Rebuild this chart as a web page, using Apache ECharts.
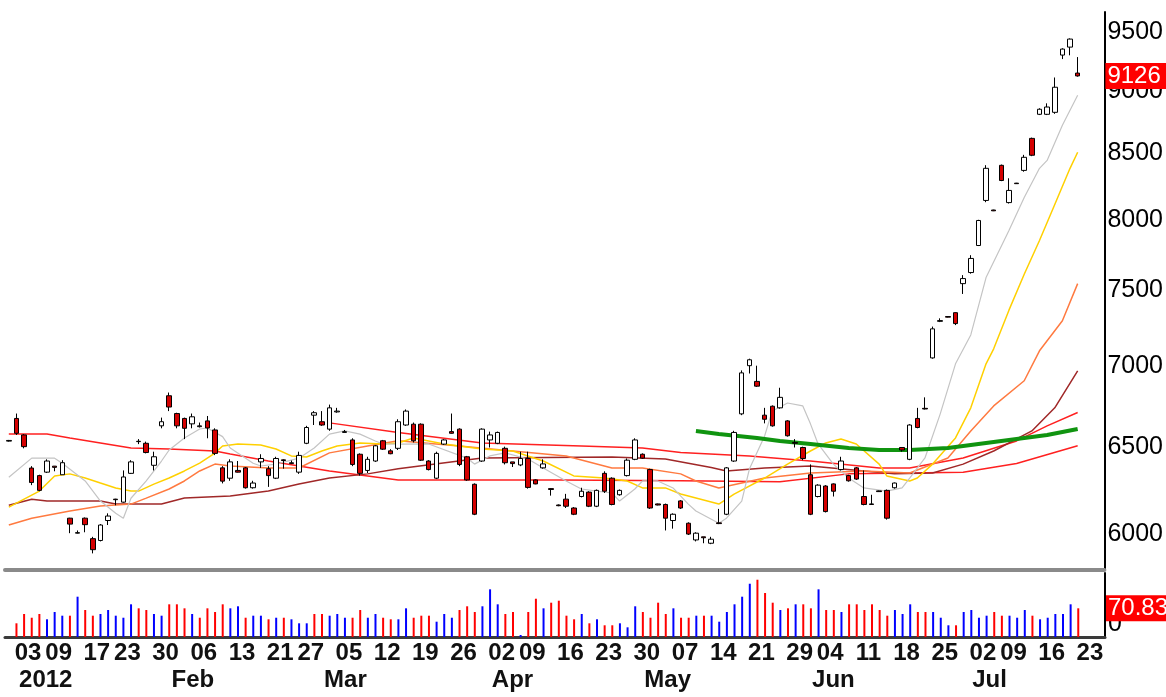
<!DOCTYPE html>
<html><head><meta charset="utf-8">
<script src="https://cdn.jsdelivr.net/npm/echarts@6/dist/echarts.min.js"></script>
<style>html,body{margin:0;padding:0;background:#fff}#c{width:1166px;height:697px}</style>
</head><body><div id="c"></div>
<script>
// ---- trading days (category axis) ----
const dec2011 = [29,30];
const jan = [3,4,5,6,9,10,11,12,13,17,18,19,20,23,24,25,26,27,30,31];
const feb = [1,2,3,6,7,8,9,10,13,14,15,16,17,21,22,23,24,27,28,29];
const mar = [1,2,5,6,7,8,9,12,13,14,15,16,19,20,21,22,23,26,27,28,29,30];
const apr = [2,3,4,5,9,10,11,12,13,16,17,18,19,20,23,24,25,26,27,30];
const may = [1,2,3,4,7,8,9,10,11,14,15,16,17,18,21,22,23,24,25,29,30,31];
const jun = [1,4,5,6,7,8,11,12,13,14,15,18,19,20,21,22,25,26,27,28,29];
const jul = [2,3,5,6,9,10,11,12,13,16,17,18,19,20];
const julFuture = [23,24,25];
const monthNames = ['Jan','Feb','Mar','Apr','May','Jun','Jul','Aug','Sep','Oct','Nov','Dec'];

// ---- OHLC, first entry = 2011-12-29 ----
const opens = [6533,6670,
 6570,6374,6330,6350,6385,6335,6088,6005,6088,5975,
 5965,6075,6195,6178,6343,6530,6520,6390,6625,6810,
 6700,6670,6637,6620,6655,6600,6375,6315,6360,6375,
 6260,6410,6370,6315,6422,6400,6350,6520,6690,6650,
 6605,6710,6585,6540,6455,6360,6415,6535,6475,6490,
 6630,6635,6635,6415,6315,6515,6590,6605,6440,6280,
 6415,6540,6520,6490,6410,6392,6430,6305,6375,6255,
 6162,6195,6145,6210,6235,6155,6343,6315,6220,6330,
 6425,6455,6365,6168,6165,6075,6185,6060,5968,5985,
 5950,6062,6110,6415,6698,7000,6900,6690,6745,6735,
 6655,6525,6495,6335,6210,6270,6282,6365,6330,6375,
 6210,6168,6242,6245,6260,6495,6425,6670,6732,7050,
 7290,7322,7348,7546,7623,7814,8143,8072,8409,8127,
 8273,8370,8619,8811,8811,8827,9302,9370,9150];
const closes = [6537,6580,
 6500,6290,6245,6415,6378,6405,6055,6008,6052,5915,
 6050,6100,6192,6322,6410,6532,6465,6440,6650,6740,
 6625,6610,6680,6625,6612,6460,6298,6410,6350,6260,
 6287,6430,6330,6430,6418,6405,6448,6615,6705,6630,
 6735,6715,6590,6395,6343,6425,6505,6485,6458,6650,
 6715,6535,6420,6365,6460,6540,6580,6395,6305,6110,
 6605,6570,6585,6405,6400,6430,6262,6282,6398,6250,
 6158,6155,6110,6240,6155,6245,6240,6165,6245,6420,
 6540,6432,6145,6162,6088,6110,6145,6000,6005,5980,
 5972,6058,6375,6585,6954,7038,6870,6665,6625,6800,
 6565,6520,6430,6110,6275,6125,6240,6415,6300,6310,
 6165,6165,6238,6088,6287,6480,6630,6615,6728,7240,
 7295,7318,7275,7581,7722,7995,8386,8066,8293,8218,
 8269,8471,8487,8852,8870,9032,9353,9439,9126];
const lows = [6530,6570,
 6490,6275,6240,6345,6355,6335,6005,6003,6010,5895,
 5960,6050,6160,6175,6340,6515,6460,6360,6610,6715,
 6610,6545,6610,6615,6550,6450,6285,6300,6348,6255,
 6255,6375,6265,6310,6370,6398,6340,6515,6630,6625,
 6595,6705,6585,6385,6330,6345,6410,6480,6455,6480,
 6625,6525,6415,6360,6310,6510,6578,6385,6300,6105,
 6410,6495,6515,6395,6380,6385,6255,6280,6370,6215,
 6155,6145,6105,6205,6150,6150,6230,6160,6215,6325,
 6420,6428,6140,6160,6020,6030,6140,5995,5960,5950,
 5945,6055,6105,6410,6690,6950,6865,6640,6620,6730,
 6560,6495,6420,6105,6205,6120,6210,6360,6295,6305,
 6160,6162,6236,6080,6255,6470,6420,6610,6725,7045,
 7285,7316,7265,7475,7615,7810,8130,8064,8288,8120,
 8267,8360,8480,8805,8805,8815,9268,9300,9120];
const highs = [6540,6700,
 6575,6385,6335,6425,6386,6420,6090,6020,6092,5985,
 6055,6115,6197,6360,6420,6545,6530,6470,6675,6830,
 6705,6675,6700,6645,6685,6610,6385,6425,6415,6380,
 6300,6455,6385,6440,6425,6418,6470,6625,6715,6715,
 6755,6735,6600,6550,6460,6440,6510,6540,6485,6665,
 6725,6645,6640,6420,6470,6545,6700,6610,6445,6285,
 6610,6590,6590,6500,6410,6470,6470,6308,6425,6258,
 6165,6225,6150,6260,6240,6250,6355,6320,6250,6430,
 6550,6460,6370,6170,6170,6115,6190,6065,6010,5985,
 5985,6140,6380,6595,6970,7045,7000,6735,6750,6860,
 6660,6545,6500,6395,6280,6275,6285,6440,6335,6380,
 6360,6220,6244,6250,6290,6495,6635,6735,6800,7255,
 7310,7324,7350,7605,7745,8000,8410,8074,8415,8310,
 8275,8490,8625,8860,8900,9113,9360,9445,9285];

// ---- volume (same days), and its colour flag: 1 = red, 0 = blue ----
const volumes = [null,33.8,
 56.8,47.6,56.8,43.7,61.7,52.6,52.6,99.5,66.6,52.6,
 56.8,66.6,52.6,47.6,80.7,70.8,66.6,56.8,52.6,80.7,
 80.7,70.8,56.8,47.6,70.8,61.7,80.7,70.8,75.8,47.6,
 52.6,52.6,43.7,47.6,47.6,43.7,33.8,33.8,56.8,56.8,
 52.6,56.8,47.6,47.6,66.6,47.6,56.8,47.6,43.7,43.7,
 70.8,47.6,52.6,52.6,37.8,56.8,47.6,66.6,75.8,61.7,
 75.8,117.7,80.7,56.8,61.7,4.9,61.7,94.5,70.8,84.7,
 89.6,52.6,43.7,56.8,33.8,43.7,28.9,28.9,33.8,23.9,
 75.8,61.7,47.6,84.7,56.8,70.8,47.6,47.6,52.6,52.6,
 52.6,37.8,61.7,80.7,99.5,131.5,141.4,108.6,84.7,66.6,
 70.8,80.7,80.7,70.8,117.7,66.6,66.6,61.7,80.7,80.7,
 66.6,80.7,66.6,52.6,66.6,56.8,80.7,61.7,61.7,61.7,
 47.6,28.9,28.9,61.7,66.6,47.6,52.6,61.7,52.6,52.6,
 47.6,66.6,52.6,43.7,47.6,56.8,56.8,80.7,70.83];
const volDown = [0,1,
 1,1,1,0,0,0,1,0,1,1,
 0,0,0,0,0,1,1,0,0,1,
 1,1,0,1,1,1,1,0,0,1,
 0,0,1,0,1,0,0,0,1,1,
 0,0,0,1,1,0,0,1,1,0,
 0,1,1,1,0,0,0,1,1,1,
 0,0,0,1,1,0,1,1,0,1,
 1,1,1,0,1,0,1,1,0,0,
 0,1,1,1,1,0,1,1,0,1,
 0,0,0,0,0,0,1,1,1,0,
 1,0,1,1,0,1,1,0,1,1,
 1,1,1,1,0,0,0,1,1,0,
 0,0,1,0,0,0,0,1,1,0,
 0,0,1,0,0,0,0,0,1];

// ---- moving-average lines: [trading-day index from 2012-01-03, value] ----
const maGrey = [[-2,6320],[1,6432],[4,6432],[5,6402],[8,6299],[10,6184],[12,6116],[13,6088],[14,6200],[16,6299],[18,6415],[19,6480],[21,6552],[23,6606],[24,6612],[26,6560],[27,6492],[30,6402],[31,6386],[33,6397],[36,6432],[38,6492],[40,6575],[42,6594],[44,6575],[46,6534],[47,6516],[49,6515],[53,6516],[58,6432],[59,6397],[61,6445],[63,6463],[66,6427],[68,6374],[71,6299],[73,6253],[75,6241],[77,6230],[78,6184],[80,6253],[81,6299],[83,6299],[85,6259],[87,6167],[88,6128],[91,6060],[92,6088],[94,6184],[95,6368],[97,6564],[98,6716],[100,6765],[102,6747],[103,6637],[104,6516],[106,6397],[108,6316],[110,6259],[113,6241],[115,6259],[116,6316],[118,6433],[120,6698],[122,7012],[124,7200],[126,7588],[129,7922],[131,8165],[133,8386],[134,8447],[136,8723],[138,8966]];
const maYellow = [[-2,6150],[2,6241],[4,6328],[6,6340],[8,6316],[10,6287],[12,6259],[14,6241],[15,6241],[17,6281],[19,6316],[21,6357],[23,6403],[25,6462],[26,6504],[28,6516],[31,6510],[33,6486],[35,6445],[37,6439],[39,6474],[41,6504],[44,6522],[47,6516],[49,6522],[51,6552],[55,6516],[60,6486],[64,6474],[68,6415],[72,6328],[76,6316],[79,6299],[81,6259],[84,6259],[86,6224],[91,6167],[93,6224],[97,6316],[100,6397],[103,6474],[105,6522],[107,6546],[109,6516],[112,6397],[113,6328],[116,6299],[117,6316],[119,6397],[122,6552],[124,6735],[126,7012],[127,7109],[129,7365],[131,7611],[133,7850],[135,8113],[137,8386],[138,8510]];
const maOrange = [[-2,6050],[1,6088],[6,6128],[10,6156],[14,6167],[16,6201],[19,6253],[21,6299],[23,6357],[25,6397],[27,6386],[32,6374],[36,6374],[40,6463],[45,6504],[49,6535],[57,6504],[64,6474],[71,6445],[77,6374],[81,6374],[86,6340],[88,6299],[91,6259],[97,6316],[103,6345],[110,6357],[116,6345],[121,6433],[124,6594],[127,6747],[131,6904],[133,7096],[136,7294],[138,7546]];
const maBrown = [[-2,6161],[1,6195],[3,6184],[10,6184],[12,6167],[18,6167],[21,6201],[27,6213],[32,6241],[36,6281],[40,6316],[45,6340],[49,6370],[60,6433],[77,6439],[84,6427],[90,6377],[92,6357],[97,6374],[103,6386],[110,6357],[114,6340],[119,6345],[123,6397],[127,6474],[132,6594],[135,6735],[138,6967]];
const maRedLong = [[-2,6576],[3,6576],[6,6552],[10,6522],[14,6492],[19,6486],[25,6474],[27,6457],[32,6415],[36,6386],[40,6357],[45,6328],[49,6305],[52,6305],[70,6305],[86,6300],[99,6295],[108,6340],[116,6345],[123,6350],[130,6400],[138,6505]];
const maRedMid = [[40,6643],[49,6585],[60,6522],[73,6504],[81,6492],[86,6465],[95,6445],[103,6415],[112,6374],[116,6374],[123,6433],[130,6534],[134,6625],[138,6706]];
const maGreen = [[88,6594],[91,6576],[96,6552],[99,6534],[103,6516],[108,6492],[112,6480],[116,6480],[121,6492],[125,6516],[130,6546],[134,6570],[138,6606]];

const priceTicks = [6000,6500,7000,7500,8000,8500,9000,9500];

// ---- build categories ----
const pad = n => (n < 10 ? '0' : '') + n;
const cats = [];
dec2011.forEach(d => cats.push('2011-12-' + pad(d)));
[[1,jan],[2,feb],[3,mar],[4,apr],[5,may],[6,jun],[7,jul],[7,julFuture]].forEach(([m, days]) =>
  days.forEach(d => cats.push('2012-' + pad(m) + '-' + pad(d))));
const OFF = dec2011.length; // category index of 2012-01-03
const dow = s => new Date(s + 'T00:00:00Z').getUTCDay();
const weekStart = cats.map((c, k) => k > 0 && dow(c) <= dow(cats[k - 1]));
const monthStart = cats.map((c, k) => k > 0 && c.slice(5, 7) !== cats[k - 1].slice(5, 7));

const FONT = "'Liberation Sans', Arial, sans-serif";
const L = 5, R = 61;
const lastClose = closes[closes.length - 1];
const lastVol = volumes[volumes.length - 1];

const ma = (data, color, width, z) => ({
  type: 'line', xAxisIndex: 0, yAxisIndex: 0, symbol: 'none', silent: true, z: z || 2,
  data: data.map(([i, v]) => [i + OFF, v]),
  lineStyle: { color: color, width: width }
});

const tagLabel = (txt) => ({
  show: true, position: 'end', distance: 1, formatter: txt, color: '#fff',
  backgroundColor: '#ff0000', fontFamily: FONT, fontSize: 24, padding: [1, 6, 1, 2]
});

const option = {
  animation: false,
  backgroundColor: '#ffffff',
  grid: [
    { left: L, right: R, top: 12, height: 558 },
    { left: L, right: R, top: 573, height: 64 },
    { left: L - 7, right: R + 7, top: 573, height: 64 }
  ],
  xAxis: [
    { type: 'category', gridIndex: 0, data: cats,
      axisLine: { lineStyle: { color: '#8a8a8a', width: 4 } },
      axisTick: { show: false }, axisLabel: { show: false }, splitLine: { show: false } },
    { type: 'category', gridIndex: 1, data: cats,
      axisLine: { lineStyle: { color: '#3a3a3a', width: 3 } },
      axisTick: { show: false },
      axisLabel: { interval: (i) => weekStart[i], formatter: v => v.slice(8),
        fontFamily: FONT, fontSize: 24, fontWeight: 'bold', color: '#111', margin: 4, padding: [0, 0, 0, 8] } },
    { type: 'category', gridIndex: 2, data: cats,
      axisLine: { show: false }, axisTick: { show: false },
      axisLabel: { interval: (i) => monthStart[i],
        formatter: v => (v.slice(5, 7) === '01' ? v.slice(0, 4) : monthNames[+v.slice(5, 7) - 1]),
        align: 'left', fontFamily: FONT, fontSize: 24, fontWeight: 'bold', color: '#111', margin: 31 } }
  ],
  yAxis: [
    { type: 'log', logBase: 10, gridIndex: 0, position: 'right', min: 5806, max: 9676,
      axisLine: { show: true, lineStyle: { color: '#000', width: 2 } },
      axisTick: { show: false }, splitLine: { show: false }, minorTick: { show: false },
      axisLabel: { customValues: priceTicks, formatter: v => String(Math.round(v)),
        fontFamily: FONT, fontSize: 25, color: '#000', margin: 3 } },
    { type: 'value', gridIndex: 1, position: 'right', min: 0, max: 158,
      axisLine: { show: true, lineStyle: { color: '#000', width: 2 } },
      axisTick: { show: false }, splitLine: { show: false },
      axisLabel: { customValues: [0], fontFamily: FONT, fontSize: 25, color: '#000', margin: 3, verticalAlign: 'bottom' } },
    { type: 'value', gridIndex: 2, show: false }
  ],
  series: [
    ma(maRedLong, '#ff2020', 1.5),
    ma(maRedMid, '#ff2020', 1.5),
    ma(maBrown, '#a02828', 1.5),
    ma(maOrange, '#ff7a40', 1.5),
    ma(maYellow, '#ffd000', 1.5),
    ma(maGrey, '#c4c4c4', 1.2),
    ma(maGreen, '#109410', 4),
    { type: 'candlestick', xAxisIndex: 0, yAxisIndex: 0, z: 5, barWidth: 5, silent: true, clip: false,
      data: opens.map((o, k) => [o, closes[k], lows[k], highs[k]]),
      itemStyle: { color: '#ffffff', color0: '#d40000', borderColor: '#000', borderColor0: '#000', borderWidth: 1 },
      markLine: { silent: true, symbol: ['none', 'none'], animation: false,
        lineStyle: { color: 'rgba(0,0,0,0)', width: 1, type: 'solid' },
        data: [{ yAxis: lastClose }],
        label: tagLabel(String(lastClose)) } },
    { type: 'bar', xAxisIndex: 1, yAxisIndex: 1, barWidth: 2, silent: true, z: 4,
      data: volumes,
      itemStyle: { color: p => (volDown[p.dataIndex] ? '#ff0000' : '#0000ff') },
      markLine: { silent: true, symbol: ['none', 'none'], animation: false,
        lineStyle: { color: 'rgba(0,0,0,0)', width: 1, type: 'solid' },
        data: [{ yAxis: lastVol }],
        label: tagLabel(String(lastVol)) } }
  ]
};
const chart = echarts.init(document.getElementById('c'));
chart.setOption(option);
</script>
</body></html>
